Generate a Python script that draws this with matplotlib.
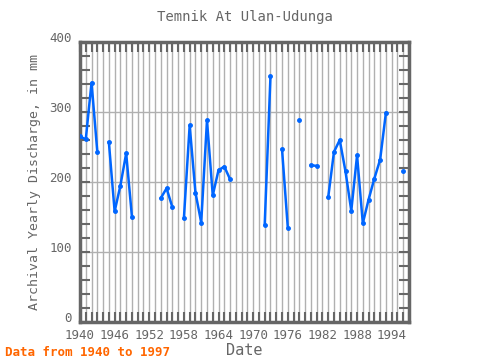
import numpy as np
from matplotlib import pyplot as plt
import matplotlib.transforms as mtransforms

# yearly values (nan = no data)
years = np.arange(1940, 1997)
discharge = [265, 261, 342, 243, np.nan, 257, 158, 195, 241, 150,
             np.nan, np.nan, np.nan, np.nan, 177, 191, 164, np.nan, 148, 281,
             185, 142, 288, 181, 217, 222, 204, np.nan, np.nan, np.nan,
             np.nan, np.nan, 139, 351, np.nan, 247, 135, np.nan, 289, np.nan,
             224, 223, np.nan, 178, 243, 260, 215, 159, 238, 141,
             175, 205, 232, 299, np.nan, np.nan, 215]
year_ticks = list(range(1940, 1997, 6))
value_ticks = [0, 100, 200, 300, 400]

font = 'DejaVu Sans Mono'
grey = '#666666'

fig = plt.figure(figsize=(4.8, 3.6), dpi=100)
ax = fig.add_axes([80/480, 38/360, 329/480, 280/360])

ax.plot(years, discharge, color='#0066ff', lw=1.8, marker='o', ms=2.5, zorder=3)

ax.set_xlim(1940, 1997)
ax.set_ylim(0, 400)

# grid: every year vertically, major values horizontally
for y in range(1941, 1997):
    ax.axvline(y, color='#b0b0b0', lw=1, zorder=1)
for v in value_ticks[1:-1]:
    ax.axhline(v, color='#b0b0b0', lw=1, zorder=1)

ax.set_xticks(year_ticks)
ax.set_xticks(range(1940, 1998), minor=True)
ax.set_yticks(value_ticks)
ax.set_yticks(range(0, 401, 20), minor=True)
ax.tick_params(which='both', direction='in', color=grey, top=True, right=True,
               labelsize=9, labelcolor=grey, length=7, width=1.5)
ax.tick_params(axis='x', pad=5)
ax.tick_params(axis='y', pad=6)
for lab in ax.get_xticklabels() + ax.get_yticklabels():
    lab.set_fontfamily(font)
# y labels sit a little above their ticks in the reference
up = mtransforms.ScaledTranslation(0, 5/100, fig.dpi_scale_trans)
for lab in ax.get_yticklabels():
    lab.set_transform(lab.get_transform() + up)

for s in ax.spines.values():
    s.set_color(grey)
    s.set_linewidth(2.5)

ax.set_title('Temnik At Ulan-Udunga', fontfamily=font, color=grey, fontsize=10, pad=15)
ax.set_xlabel('Date', fontfamily=font, color=grey, fontsize=11, labelpad=1)
ax.set_ylabel('Archival Yearly Discharge, in mm', fontfamily=font, color=grey, fontsize=9.5,
              labelpad=6)
fig.text(5/480, 1 - 352/360, 'Data from 1940 to 1997', fontfamily=font, color='#ff6600',
         fontsize=9, fontweight='bold', va='center')

fig.savefig('out.png', dpi=100)
